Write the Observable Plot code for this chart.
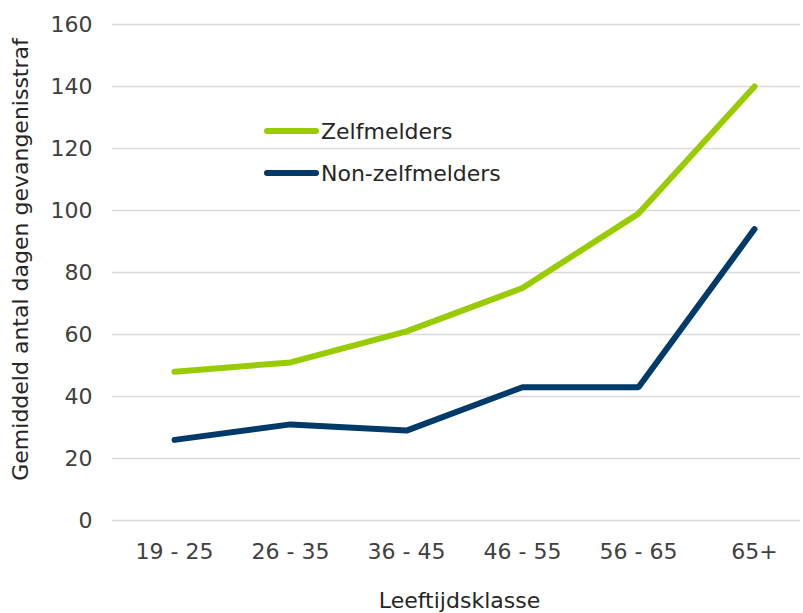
<!DOCTYPE html>
<html>
<head>
<meta charset="utf-8">
<script src="https://cdn.jsdelivr.net/npm/d3@7"></script>
<script src="https://cdn.jsdelivr.net/npm/@observablehq/plot@0.6"></script>
<style>
  html, body { margin: 0; padding: 0; background: #fff; }
  #wrap { position: relative; width: 803px; height: 613px; font-family: "DejaVu Sans", Verdana, sans-serif; }
  #legend { position: absolute; left: 264px; top: 110px; font-size: 22px; color: #262626; }
  .item { display: flex; align-items: center; height: 42px; }
  .sw { width: 55px; height: 6px; border-radius: 3px; margin-right: 2px; }
</style>
</head>
<body>
<div id="wrap"></div>
<script>
const categories = ["19 - 25", "26 - 35", "36 - 45", "46 - 55", "56 - 65", "65+"];
const zelfmelders = [48, 51, 61, 75, 99, 140];
const nonZelfmelders = [26, 31, 29, 43, 43, 94];
const seriesNames = ["Zelfmelders", "Non-zelfmelders"];
const seriesColors = ["#99cc00", "#003a68"];
const yTicks = [0, 20, 40, 60, 80, 100, 120, 140, 160];

const rows = [];
categories.forEach((c, i) => {
  rows.push({cat: c, value: zelfmelders[i], series: seriesNames[0]});
  rows.push({cat: c, value: nonZelfmelders[i], series: seriesNames[1]});
});

const chart = Plot.plot({
  width: 803,
  height: 613,
  marginLeft: 112,
  marginRight: 3,
  marginTop: 24,
  marginBottom: 93,
  style: {fontFamily: '"DejaVu Sans", Verdana, sans-serif', fontSize: "22px", color: "#404040", background: "#fff"},
  x: {type: "point", domain: categories, range: [172, 756], padding: 0, label: null},
  y: {domain: [0, 160], ticks: yTicks, label: null},
  color: {domain: seriesNames, range: seriesColors},
  marks: [
    Plot.ruleY(yTicks, {stroke: "#d9d9d9", strokeWidth: 1.5}),
    Plot.axisY({ticks: yTicks, tickSize: 0, tickPadding: 20, label: null, fill: "#404040", fontSize: 22}),
    Plot.axisX({tickSize: 0, tickPadding: 23, label: null, fill: "#404040", fontSize: 22}),
    Plot.lineY(rows, {x: "cat", y: "value", z: "series", stroke: "series", strokeWidth: 6, strokeLinecap: "round", strokeLinejoin: "miter"}),
    Plot.text(["Leeftijdsklasse"], {frameAnchor: "bottom", dy: 87, dx: 3, fill: "#262626", fontSize: 22}),
    Plot.text(["Gemiddeld antal dagen gevangenisstraf"], {frameAnchor: "left", textAnchor: "middle", dx: -92, dy: -13, rotate: -90, fill: "#262626", fontSize: 22})
  ]
});

const wrap = document.getElementById("wrap");
wrap.appendChild(chart);
const legend = document.createElement("div");
legend.id = "legend";
seriesNames.forEach((n, i) => {
  const item = document.createElement("div");
  item.className = "item";
  const sw = document.createElement("span");
  sw.className = "sw";
  sw.style.background = seriesColors[i];
  const t = document.createElement("span");
  t.textContent = n;
  item.appendChild(sw);
  item.appendChild(t);
  legend.appendChild(item);
});
wrap.appendChild(legend);
</script>
</body>
</html>
